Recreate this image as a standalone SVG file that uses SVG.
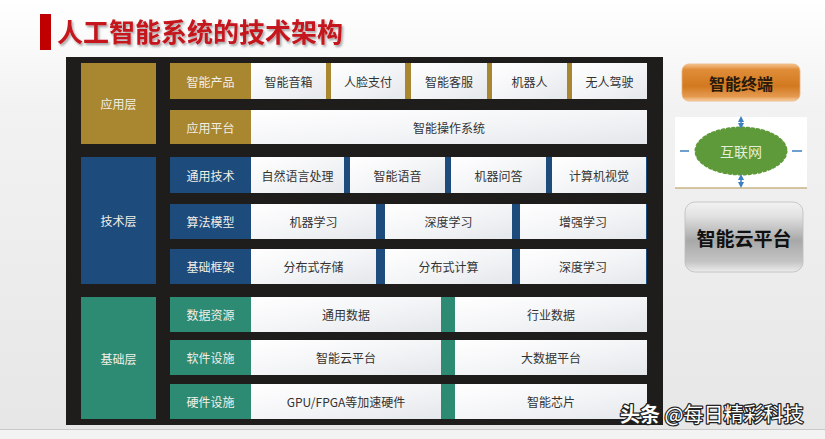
<svg xmlns="http://www.w3.org/2000/svg" width="825" height="439" viewBox="0 0 825 439">
<defs>
<linearGradient id="bg" x1="0" y1="0" x2="0" y2="1">
<stop offset="0" stop-color="#ffffff"/>
<stop offset="0.25" stop-color="#f2f2f2"/>
<stop offset="1" stop-color="#e6e6e6"/>
</linearGradient>
<linearGradient id="cellGrad" x1="0" y1="0" x2="1" y2="1">
<stop offset="0" stop-color="#ffffff"/>
<stop offset="0.5" stop-color="#f4f5f7"/>
<stop offset="1" stop-color="#e4e7eb"/>
</linearGradient>
<linearGradient id="orangeGrad" x1="0" y1="0" x2="0" y2="1">
<stop offset="0" stop-color="#f6c590"/>
<stop offset="0.15" stop-color="#e08d38"/>
<stop offset="0.6" stop-color="#d27920"/>
<stop offset="0.88" stop-color="#e59a50"/>
<stop offset="1" stop-color="#f8d2a8"/>
</linearGradient>
<linearGradient id="grayGrad" x1="0" y1="0" x2="0" y2="1">
<stop offset="0" stop-color="#f2f2f2"/>
<stop offset="0.2" stop-color="#e2e2e2"/>
<stop offset="0.55" stop-color="#a8a8a8"/>
<stop offset="0.85" stop-color="#c4c4c4"/>
<stop offset="1" stop-color="#ececec"/>
</linearGradient>
<filter id="tshadow" x="-5%" y="-20%" width="110%" height="150%">
<feDropShadow dx="1.5" dy="2" stdDeviation="1.2" flood-color="#000" flood-opacity="0.35"/>
</filter>
<marker id="ah" viewBox="0 0 6 6" refX="3" refY="3" markerWidth="4" markerHeight="4" orient="auto-start-reverse">
<path d="M0,0 L6,3 L0,6 z" fill="#3d7fc0"/>
</marker>
<style>
.ct{font-family:"Noto Sans CJK SC","Noto Sans",sans-serif;font-size:12px;fill:#333;text-anchor:middle;dominant-baseline:central}
.lt{font-family:"Noto Sans CJK SC","Noto Sans",sans-serif;font-size:12px;fill:#f2efe6;text-anchor:middle;dominant-baseline:central}
.cell{fill:url(#cellGrad)}
.gold{fill:#a98630}
.blue{fill:#1d4b7c}
.teal{fill:#2d8a73}
</style>
</defs>

<rect x="0" y="0" width="825" height="439" fill="url(#bg)"/>
<rect x="0" y="429" width="825" height="10" fill="#f3f3f3"/>
<line x1="0" y1="429.5" x2="825" y2="429.5" stroke="#c9c9c9" stroke-width="1"/>

<g id="title">
<rect x="40" y="14" width="11" height="36" fill="#c00000"/>
<text x="57" y="42" font-family="Noto Sans CJK SC,sans-serif" font-size="26" font-weight="bold" fill="#c4161c" filter="url(#tshadow)">人工智能系统的技术架构</text>
</g>

<rect id="panel" x="66" y="57" width="597" height="368" fill="#1e1d1b"/>

<g id="app-layer">
<rect class="gold" x="81" y="63" width="75" height="81"/>
<text class="lt" x="118.5" y="103.5">应用层</text>
</g>
<g id="app-products">
<rect class="gold" x="170" y="63" width="477" height="36"/>
<text class="lt" x="210.5" y="81">智能产品</text>
<rect class="cell" x="251" y="63" width="75" height="36"/>
<text class="ct" x="288.5" y="81">智能音箱</text>
<rect class="cell" x="331" y="63" width="74" height="36"/>
<text class="ct" x="368" y="81">人脸支付</text>
<rect class="cell" x="411" y="63" width="76" height="36"/>
<text class="ct" x="449" y="81">智能客服</text>
<rect class="cell" x="492" y="63" width="75" height="36"/>
<text class="ct" x="529.5" y="81">机器人</text>
<rect class="cell" x="572" y="63" width="75" height="36"/>
<text class="ct" x="609.5" y="81">无人驾驶</text>
</g>
<g id="app-platform">
<rect class="gold" x="170" y="110" width="81" height="34"/>
<text class="lt" x="210.5" y="127">应用平台</text>
<rect class="cell" x="251" y="110" width="396" height="34"/>
<text class="ct" x="449" y="127">智能操作系统</text>
</g>

<g id="tech-layer">
<rect class="blue" x="81" y="157" width="75" height="127"/>
<text class="lt" x="118.5" y="220.5">技术层</text>
</g>
<g id="tech-general">
<rect class="blue" x="170" y="157" width="477" height="36"/>
<text class="lt" x="210.5" y="175">通用技术</text>
<rect class="cell" x="251" y="157" width="93" height="36"/>
<text class="ct" x="297.5" y="175">自然语言处理</text>
<rect class="cell" x="350" y="157" width="95" height="36"/>
<text class="ct" x="397.5" y="175">智能语音</text>
<rect class="cell" x="451" y="157" width="95" height="36"/>
<text class="ct" x="498.5" y="175">机器问答</text>
<rect class="cell" x="552" y="157" width="94" height="36"/>
<text class="ct" x="599" y="175">计算机视觉</text>
</g>
<g id="tech-algo">
<rect class="blue" x="170" y="204" width="477" height="35"/>
<text class="lt" x="210.5" y="221.5">算法模型</text>
<rect class="cell" x="251" y="204" width="125" height="35"/>
<text class="ct" x="313.5" y="221.5">机器学习</text>
<rect class="cell" x="385" y="204" width="127" height="35"/>
<text class="ct" x="448.5" y="221.5">深度学习</text>
<rect class="cell" x="520" y="204" width="126" height="35"/>
<text class="ct" x="583" y="221.5">增强学习</text>
</g>
<g id="tech-frame">
<rect class="blue" x="170" y="249" width="477" height="35"/>
<text class="lt" x="210.5" y="266.5">基础框架</text>
<rect class="cell" x="251" y="249" width="125" height="35"/>
<text class="ct" x="313.5" y="266.5">分布式存储</text>
<rect class="cell" x="385" y="249" width="127" height="35"/>
<text class="ct" x="448.5" y="266.5">分布式计算</text>
<rect class="cell" x="520" y="249" width="126" height="35"/>
<text class="ct" x="583" y="266.5">深度学习</text>
</g>

<g id="base-layer">
<rect class="teal" x="81" y="297" width="75" height="122"/>
<text class="lt" x="118.5" y="358">基础层</text>
</g>
<g id="base-data">
<rect class="teal" x="170" y="297" width="477" height="35"/>
<text class="lt" x="210.5" y="314.5">数据资源</text>
<rect class="cell" x="251" y="297" width="190" height="35"/>
<text class="ct" x="346" y="314.5">通用数据</text>
<rect class="cell" x="455" y="297" width="192" height="35"/>
<text class="ct" x="551" y="314.5">行业数据</text>
</g>
<g id="base-software">
<rect class="teal" x="170" y="340" width="477" height="35"/>
<text class="lt" x="210.5" y="357.5">软件设施</text>
<rect class="cell" x="251" y="340" width="190" height="35"/>
<text class="ct" x="346" y="357.5">智能云平台</text>
<rect class="cell" x="455" y="340" width="192" height="35"/>
<text class="ct" x="551" y="357.5">大数据平台</text>
</g>
<g id="base-hardware">
<rect class="teal" x="170" y="384" width="477" height="35"/>
<text class="lt" x="210.5" y="401.5">硬件设施</text>
<rect class="cell" x="251" y="384" width="190" height="35"/>
<text class="ct" x="346" y="401.5">GPU/FPGA等加速硬件</text>
<rect class="cell" x="455" y="384" width="192" height="35"/>
<text class="ct" x="551" y="401.5">智能芯片</text>
</g>

<g id="terminal">
<rect x="682" y="64" width="118" height="37" rx="7" fill="url(#orangeGrad)" stroke="#e9b27a" stroke-width="0.8"/>
<text x="741" y="83" font-family="Noto Sans CJK SC,sans-serif" font-size="16" font-weight="bold" fill="#2a1a0a" text-anchor="middle" dominant-baseline="central">智能终端</text>
</g>

<g id="internet">
<rect x="675" y="117" width="132" height="71" fill="#ffffff"/>
<line x1="675" y1="188" x2="807" y2="188" stroke="#c9b386" stroke-width="1.5"/>
<ellipse cx="741" cy="151" rx="45" ry="23" fill="#5e9a3a" stroke="#5e9a3a" stroke-width="3" stroke-dasharray="2 3" stroke-linecap="round"/>
<text x="741" y="151" font-family="Noto Sans CJK SC,sans-serif" font-size="14" fill="#e3efd9" text-anchor="middle" dominant-baseline="central">互联网</text>
</g>

<g id="connectors" stroke="#3d7fc0" stroke-width="1.5" fill="none">
<line x1="741" y1="119" x2="741" y2="126" marker-start="url(#ah)" marker-end="url(#ah)"/>
<line x1="741" y1="177" x2="741" y2="185" marker-start="url(#ah)" marker-end="url(#ah)"/>
<line x1="680" y1="151" x2="689" y2="151"/>
<line x1="792" y1="151" x2="802" y2="151"/>
</g>

<g id="cloud-platform">
<rect x="685" y="202" width="118" height="70" rx="10" fill="url(#grayGrad)" stroke="#bdbdbd" stroke-width="0.8"/>
<text x="744" y="237" font-family="Noto Sans CJK SC,sans-serif" font-size="19" font-weight="bold" fill="#111" text-anchor="middle" dominant-baseline="central">智能云平台</text>
</g>

<text id="watermark" x="620" y="422" font-family="Noto Sans CJK SC,sans-serif" font-size="20" fill="#ffffff" stroke="#222" stroke-width="2.5" paint-order="stroke" stroke-linejoin="round"><tspan font-weight="bold">头条</tspan> @每日精彩科技</text>
</svg>
